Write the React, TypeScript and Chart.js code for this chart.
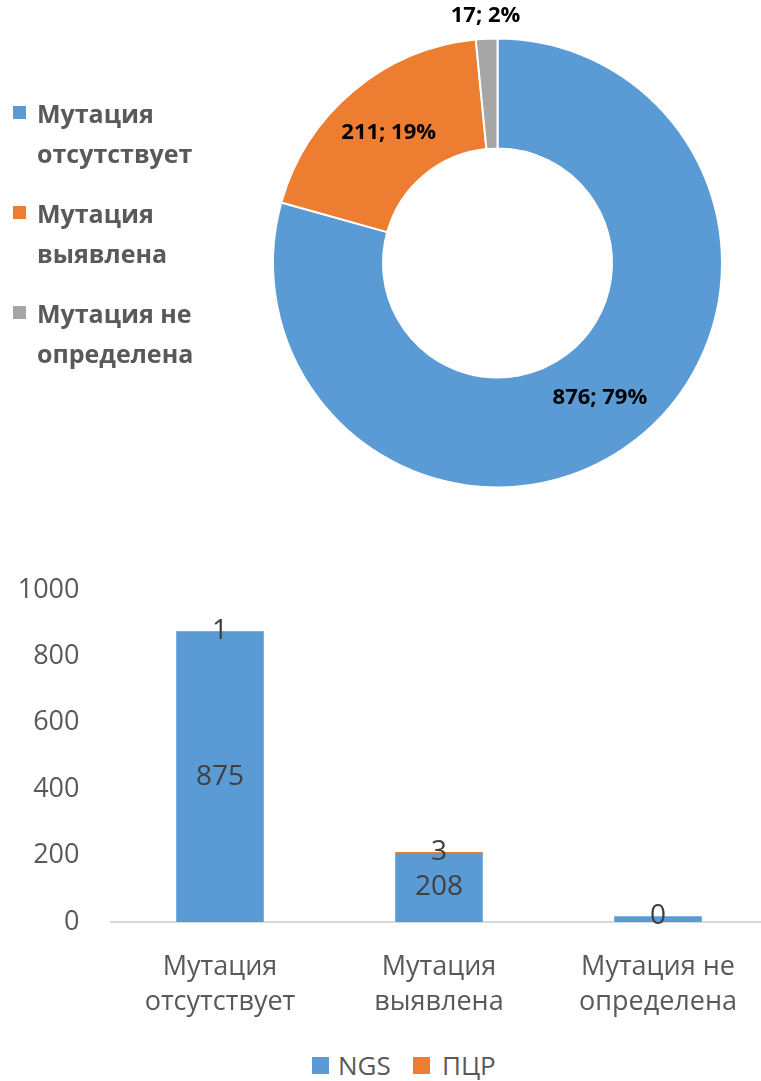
import React, { useEffect, useRef } from 'react';
import { Chart, registerables } from 'chart.js';

Chart.register(...registerables);

// ---- data ----
const categories = ['Мутация отсутствует', 'Мутация выявлена', 'Мутация не определена'];
const categoryLines = [
  ['Мутация', 'отсутствует'],
  ['Мутация', 'выявлена'],
  ['Мутация не', 'определена'],
];
const totals = [876, 211, 17];
const ngsValues = [875, 208, 17];
const pcrValues = [1, 3, 0];
const seriesNames = ['NGS', 'ПЦР'];
const sliceColors = ['#5B9BD5', '#ED7D31', '#A5A5A5'];
const seriesColors = ['#5B9BD5', '#ED7D31'];
const yMin = 0;
const yMax = 1000;
const yStep = 200;

const FONT = "'Open Sans', 'DejaVu Sans', sans-serif";
const GRAY = '#595959';

const donutLabelPlugin = {
  id: 'donutLabels',
  afterDatasetsDraw(chart: any) {
    const meta = chart.getDatasetMeta(0);
    const data = chart.data.datasets[0].data as number[];
    const total = data.reduce((a, b) => a + b, 0);
    const ctx = chart.ctx;
    ctx.save();
    ctx.font = `bold 22px ${FONT}`;
    ctx.fillStyle = '#000000';
    ctx.textAlign = 'center';
    ctx.textBaseline = 'middle';
    meta.data.forEach((arc: any, i: number) => {
      const p = arc.getProps(['x', 'y', 'startAngle', 'endAngle', 'innerRadius', 'outerRadius'], true);
      const mid = (p.startAngle + p.endAngle) / 2;
      const frac = (p.endAngle - p.startAngle) / (Math.PI * 2);
      const r = frac < 0.05 ? p.outerRadius + 23 : (p.innerRadius + p.outerRadius) / 2;
      const pct = Math.round((data[i] / total) * 100);
      ctx.fillText(`${data[i]}; ${pct}%`, p.x + Math.cos(mid) * r, p.y + Math.sin(mid) * r);
    });
    ctx.restore();
  },
};

const barLabelPlugin = {
  id: 'barLabels',
  afterDatasetsDraw(chart: any) {
    const ctx = chart.ctx;
    ctx.save();
    ctx.font = `28px ${FONT}`;
    ctx.fillStyle = '#404040';
    ctx.textAlign = 'center';
    ctx.textBaseline = 'middle';
    chart.data.datasets.forEach((ds: any, di: number) => {
      const meta = chart.getDatasetMeta(di);
      meta.data.forEach((bar: any, i: number) => {
        const p = bar.getProps(['x', 'y', 'base'], true);
        const h = Math.abs(p.base - p.y);
        if (di === 0 && h < 24) return; // too small, hidden by the label above
        ctx.fillText(String(ds.data[i]), p.x, (p.y + p.base) / 2);
      });
    });
    ctx.restore();
  },
};

function DonutChart() {
  const ref = useRef<HTMLCanvasElement>(null);
  useEffect(() => {
    const chart = new Chart(ref.current!, {
      type: 'doughnut',
      data: {
        labels: categories,
        datasets: [
          {
            data: totals,
            backgroundColor: sliceColors,
            borderColor: '#ffffff',
            borderWidth: 2,
          },
        ],
      },
      options: {
        responsive: false,
        animation: false,
        devicePixelRatio: 1,
        cutout: '51%',
        layout: { padding: { left: 272, right: 38, top: 37, bottom: 21 } },
        plugins: { legend: { display: false }, tooltip: { enabled: false } },
      },
      plugins: [donutLabelPlugin],
    });
    return () => chart.destroy();
  }, []);
  return (
    <canvas
      ref={ref}
      width={761}
      height={510}
      style={{ position: 'absolute', left: 0, top: 0, width: 761, height: 510 }}
    />
  );
}

function BarChart() {
  const ref = useRef<HTMLCanvasElement>(null);
  useEffect(() => {
    const chart = new Chart(ref.current!, {
      type: 'bar',
      data: {
        labels: categoryLines as any,
        datasets: [
          { label: seriesNames[0], data: ngsValues, backgroundColor: seriesColors[0], barPercentage: 0.4, categoryPercentage: 1 },
          { label: seriesNames[1], data: pcrValues, backgroundColor: seriesColors[1], barPercentage: 0.4, categoryPercentage: 1 },
        ],
      },
      options: {
        responsive: false,
        animation: false,
        devicePixelRatio: 1,
        layout: { padding: { left: 0, right: 2.5, top: 0, bottom: 0 } },
        plugins: { legend: { display: false }, tooltip: { enabled: false } },
        scales: {
          x: {
            stacked: true,
            grid: { display: false, drawTicks: false },
            border: { display: true, color: '#D9D9D9', width: 2 },
            ticks: {
              color: GRAY,
              font: { family: FONT, size: 27, lineHeight: 1.3 },
              padding: 28,
              maxRotation: 0,
              autoSkip: false,
            },
            afterFit(s: any) {
              s.height = 108;
            },
          },
          y: {
            stacked: true,
            min: yMin,
            max: yMax,
            grid: { display: false, drawTicks: false },
            border: { display: false },
            ticks: {
              stepSize: yStep,
              color: GRAY,
              font: { family: FONT, size: 27, lineHeight: 1.1 },
              padding: 31,
              callback: (v: any) => String(v),
            },
            afterFit(s: any) {
              s.width = 110.5;
            },
          },
        },
      },
      plugins: [barLabelPlugin],
    });
    return () => chart.destroy();
  }, []);
  return (
    <canvas
      ref={ref}
      width={770}
      height={486}
      style={{ position: 'absolute', left: 0, top: 544, width: 770, height: 486 }}
    />
  );
}

export default function App() {
  const legendTops = [92.7, 192.7, 292.7];
  return (
    <div
      style={{
        position: 'absolute',
        left: 0,
        top: 0,
        width: 761,
        height: 1081,
        overflow: 'hidden',
        background: '#ffffff',
        fontFamily: FONT,
      }}
    >
      <DonutChart />
      {categoryLines.map((lines, i) => (
        <React.Fragment key={i}>
          <div
            style={{
              position: 'absolute',
              left: 13,
              top: legendTops[i] + 13.5,
              width: 13,
              height: 13,
              background: sliceColors[i],
            }}
          />
          <div
            style={{
              position: 'absolute',
              left: 37,
              top: legendTops[i],
              fontSize: 25,
              fontWeight: 'bold',
              lineHeight: '40px',
              color: GRAY,
              whiteSpace: 'nowrap',
            }}
          >
            {lines[0]}
            <br />
            {lines[1]}
          </div>
        </React.Fragment>
      ))}
      <BarChart />
      {seriesNames.map((name, i) => (
        <React.Fragment key={name}>
          <div
            style={{
              position: 'absolute',
              left: [312, 413][i],
              top: 1057,
              width: 17,
              height: 17,
              background: seriesColors[i],
            }}
          />
          <div
            style={{
              position: 'absolute',
              left: [338, 442][i],
              top: 1045,
              fontSize: 26,
              lineHeight: '40px',
              color: GRAY,
              whiteSpace: 'nowrap',
            }}
          >
            {name}
          </div>
        </React.Fragment>
      ))}
    </div>
  );
}
